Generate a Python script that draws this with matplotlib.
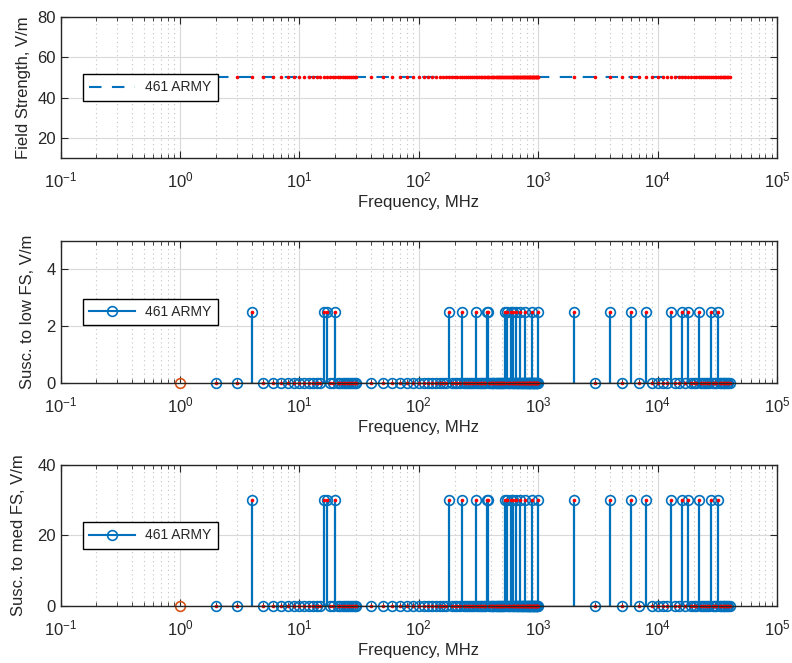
import numpy as np
import matplotlib
matplotlib.use('Agg')
import matplotlib.pyplot as plt
from matplotlib.lines import Line2D
from matplotlib.legend_handler import HandlerLine2D

plt.rcParams['font.family'] = ['Liberation Sans', 'DejaVu Sans']
plt.rcParams['text.color'] = '#262626'
plt.rcParams['axes.labelcolor'] = '#262626'
plt.rcParams['xtick.color'] = '#262626'
plt.rcParams['ytick.color'] = '#262626'

# test frequencies, MHz
freqs = ([2, 3, 4, 5, 6, 7, 8, 9]
         + list(range(10, 31))
         + [40, 50, 60, 70, 80, 90]
         + list(range(100, 1001, 10))
         + [2000, 3000, 4000, 5000, 6000, 7000, 8000, 9000]
         + list(range(10000, 40001, 1000)))

# frequencies where the equipment responded
susc_freqs = [4, 16, 17, 20,
              180, 230, 300, 370, 380, 530, 550, 590, 620, 650, 700, 780, 890, 1000,
              2000, 4000, 6000, 8000,
              13000, 16000, 18000, 22000, 28000, 32000]

field_level = 50.0   # V/m
low_fs_level = 2.5   # V/m
med_fs_level = 30.0  # V/m

ref_freqs = [1]
ref_vals = [0]

label = '461 ARMY'

f = np.array(freqs, dtype=float)
hit = np.isin(f, susc_freqs)
field = np.full(f.shape, field_level)
low_fs = np.where(hit, low_fs_level, 0.0)
med_fs = np.where(hit, med_fs_level, 0.0)

blue = '#0072BD'
orange = '#D95319'


class StemHandler(HandlerLine2D):
    # line with the marker at its right end
    def get_xdata(self, legend, xdescent, ydescent, width, height, fontsize):
        return [-xdescent, -xdescent + width], [-xdescent + width]


def style_axis(ax, ylim, yticks):
    ax.set_xscale('log')
    ax.set_xlim(0.1, 1e5)
    ax.set_ylim(*ylim)
    ax.set_yticks(yticks)
    ax.grid(True, which='major', color='#d9d9d9', lw=0.8)
    ax.grid(True, which='minor', axis='x', color='#c4c4c4', lw=0.8, ls=(0, (1, 3)))
    ax.set_axisbelow(True)
    ax.tick_params(which='both', direction='in', top=True, right=True, labelsize=12)
    ax.tick_params(which='major', length=5)
    ax.tick_params(which='minor', length=3)
    ax.tick_params(axis='x', which='major', pad=9)
    for s in ax.spines.values():
        s.set_color('#262626')
        s.set_linewidth(1.0)
    ax.set_xlabel('Frequency, MHz', fontsize=12, labelpad=3)


def add_legend(ax, handle, handler=None):
    kw = {}
    if handler is not None:
        kw['handler_map'] = {handle: handler}
    leg = ax.legend([handle], [label], loc='center left', bbox_to_anchor=(0.022, 0.5),
                    fontsize=10, fancybox=False, framealpha=1, edgecolor='black',
                    handlelength=3.3, handletextpad=0.7, borderpad=0.45, **kw)
    leg.get_frame().set_linewidth(1.0)


fig = plt.figure(figsize=(7.92, 6.63), dpi=100)
ax1 = fig.add_axes([0.0764, 0.7617, 0.9047, 0.2127])
ax2 = fig.add_axes([0.0764, 0.4223, 0.9047, 0.2142])
ax3 = fig.add_axes([0.0764, 0.0860, 0.9047, 0.2127])

# field strength
ax1.plot(f, field, color=blue, lw=1.5, ls=(0, (6, 5)))
ax1.plot(f, field, ls='none', marker='o', ms=2.6, color='red', mec='none')
style_axis(ax1, (10, 80), [20, 40, 60, 80])
ax1.set_ylabel('Field Strength, V/m', fontsize=12, labelpad=4)
add_legend(ax1, Line2D([], [], color=blue, lw=1.5, ls=(0, (6, 5))))


def stem_panel(ax, vals, ylim, yticks, ylabel):
    ref = ax.stem(ref_freqs, ref_vals, linefmt='-', markerfmt='o', basefmt=' ')
    ref.markerline.set(color=orange, mfc='none', ms=7, mew=1.2, clip_on=False)
    ref.stemlines.set(color=orange, lw=1.5)
    cont = ax.stem(f, vals, linefmt='-', markerfmt='o', basefmt='k-')
    cont.markerline.set(color=blue, mfc='none', ms=7, mew=1.2, clip_on=False)
    cont.stemlines.set(color=blue, lw=1.6)
    cont.baseline.set(color='#262626', lw=1.0)
    ax.plot(f, vals, ls='none', marker='o', ms=2.6, color='red', mec='none', clip_on=False)
    style_axis(ax, ylim, yticks)
    ax.set_ylabel(ylabel, fontsize=12, labelpad=8)
    h = Line2D([], [], color=blue, lw=1.5, marker='o', mfc='none', ms=7, mew=1.2)
    add_legend(ax, h, StemHandler(numpoints=1))


stem_panel(ax2, low_fs, (0, 5), [0, 2, 4], 'Susc. to low FS, V/m')
stem_panel(ax3, med_fs, (0, 40), [0, 20, 40], 'Susc. to med FS, V/m')

fig.savefig('out.png', dpi=100)
